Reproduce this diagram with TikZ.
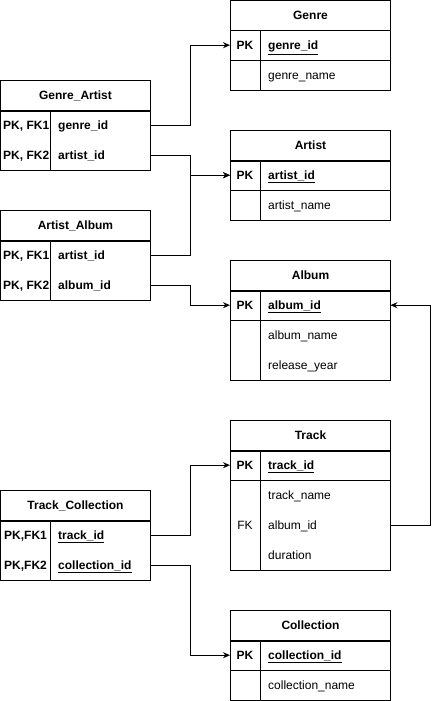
\documentclass[tikz,border=0pt]{standalone}
\usepackage{fontspec}
\setmainfont{Liberation Sans}
\usetikzlibrary{positioning}
\usetikzlibrary{arrows.meta}
\tikzset{hdr/.style={draw,line width=1pt,anchor=north west,minimum width=#1,minimum height=30pt,inner sep=0pt,font=\bfseries}}
\tikzset{rowbox/.style={anchor=north west,minimum width=#1,minimum height=30pt,inner sep=0pt}}
\tikzset{frame/.style={line width=1pt}}
\tikzset{keytxt/.style={inner sep=0pt,text height=9.6pt,text depth=0pt,font=\bfseries}}
\tikzset{fktxt/.style={inner sep=0pt,text height=9.6pt,text depth=0pt}}
\tikzset{fldtxt/.style={anchor=west,inner sep=0pt,text height=9.6pt,text depth=0pt}}
\tikzset{pktxt/.style={fldtxt,font=\bfseries}}
\tikzset{link/.style={line width=1pt,-{Stealth[length=7pt,width=6pt]}}}
\begin{document}
\fontsize{12}{14}\selectfont
\begin{tikzpicture}[x=1pt,y=-1pt]
  \useasboundingbox (0,0) rectangle (439,701);

  % Genre
  \node[hdr=160] (genre) at (230,0) {Genre};
  \node[rowbox=160] (genre-pk) at (230,30) {};
  \node[rowbox=160] (genre-r1) at (230,60) {};
  \draw[frame] (genre.south west) rectangle (390,90);
  \draw[frame] (genre-pk.south west) -- (genre-pk.south east);
  \draw[frame] (260,30) -- (260,90);
  \node[keytxt] (genre-k1) at (245,45) {PK};
  \node[pktxt] (genre-f1) at (268,45) {\underline{genre\_id}};
  \node[fldtxt] (genre-f2) at (268,75) {genre\_name};

  % Artist
  \node[hdr=160] (artist) at (230,130) {Artist};
  \node[rowbox=160] (artist-pk) at (230,160) {};
  \node[rowbox=160] (artist-r1) at (230,190) {};
  \draw[frame] (artist.south west) rectangle (390,220);
  \draw[frame] (artist-pk.south west) -- (artist-pk.south east);
  \draw[frame] (260,160) -- (260,220);
  \node[keytxt] (artist-k1) at (245,175) {PK};
  \node[pktxt] (artist-f1) at (268,175) {\underline{artist\_id}};
  \node[fldtxt] (artist-f2) at (268,205) {artist\_name};

  % Album
  \node[hdr=160] (album) at (230,260) {Album};
  \node[rowbox=160] (album-pk) at (230,290) {};
  \node[rowbox=160] (album-r1) at (230,320) {};
  \node[rowbox=160] (album-r2) at (230,350) {};
  \draw[frame] (album.south west) rectangle (390,380);
  \draw[frame] (album-pk.south west) -- (album-pk.south east);
  \draw[frame] (260,290) -- (260,380);
  \node[keytxt] (album-k1) at (245,305) {PK};
  \node[pktxt] (album-f1) at (268,305) {\underline{album\_id}};
  \node[fldtxt] (album-f2) at (268,335) {album\_name};
  \node[fldtxt] (album-f3) at (268,365) {release\_year};

  % Track
  \node[hdr=160] (track) at (230,420) {Track};
  \node[rowbox=160] (track-pk) at (230,450) {};
  \node[rowbox=160] (track-r1) at (230,480) {};
  \node[rowbox=160] (track-r2) at (230,510) {};
  \node[rowbox=160] (track-r3) at (230,540) {};
  \draw[frame] (track.south west) rectangle (390,570);
  \draw[frame] (track-pk.south west) -- (track-pk.south east);
  \draw[frame] (260,450) -- (260,570);
  \node[keytxt] (track-k1) at (245,465) {PK};
  \node[fktxt] (track-k2) at (245,525) {FK};
  \node[pktxt] (track-f1) at (268,465) {\underline{track\_id}};
  \node[fldtxt] (track-f2) at (268,495) {track\_name};
  \node[fldtxt] (track-f3) at (268,525) {album\_id};
  \node[fldtxt] (track-f4) at (268,555) {duration};

  % Collection
  \node[hdr=160] (coll) at (230,610) {Collection};
  \node[rowbox=160] (coll-pk) at (230,640) {};
  \node[rowbox=160] (coll-r1) at (230,670) {};
  \draw[frame] (coll.south west) rectangle (390,700);
  \draw[frame] (coll-pk.south west) -- (coll-pk.south east);
  \draw[frame] (260,640) -- (260,700);
  \node[keytxt] (coll-k1) at (245,655) {PK};
  \node[pktxt] (coll-f1) at (268,655) {\underline{collection\_id}};
  \node[fldtxt] (coll-f2) at (268,685) {collection\_name};

  % Genre_Artist
  \node[hdr=150] (ga) at (0,80) {Genre\_Artist};
  \node[rowbox=150] (ga-r1) at (0,110) {};
  \node[rowbox=150] (ga-r2) at (0,140) {};
  \draw[frame] (ga.south west) rectangle (150,170);
  \draw[frame] (50,110) -- (50,170);
  \node[keytxt,anchor=west] (ga-k1) at (3,125) {PK, FK1};
  \node[keytxt,anchor=west] (ga-k2) at (3,155) {PK, FK2};
  \node[pktxt] (ga-f1) at (58,125) {genre\_id};
  \node[pktxt] (ga-f2) at (58,155) {artist\_id};

  % Artist_Album
  \node[hdr=150] (aa) at (0,210) {Artist\_Album};
  \node[rowbox=150] (aa-r1) at (0,240) {};
  \node[rowbox=150] (aa-r2) at (0,270) {};
  \draw[frame] (aa.south west) rectangle (150,300);
  \draw[frame] (50,240) -- (50,300);
  \node[keytxt,anchor=west] (aa-k1) at (3,255) {PK, FK1};
  \node[keytxt,anchor=west] (aa-k2) at (3,285) {PK, FK2};
  \node[pktxt] (aa-f1) at (58,255) {artist\_id};
  \node[pktxt] (aa-f2) at (58,285) {album\_id};

  % Track_Collection
  \node[hdr=150] (tc) at (0,490) {Track\_Collection};
  \node[rowbox=150] (tc-r1) at (0,520) {};
  \node[rowbox=150] (tc-r2) at (0,550) {};
  \draw[frame] (tc.south west) rectangle (150,580);
  \draw[frame] (50,520) -- (50,580);
  \node[keytxt,anchor=west] (tc-k1) at (4,535) {PK,FK1};
  \node[keytxt,anchor=west] (tc-k2) at (4,565) {PK,FK2};
  \node[pktxt] (tc-f1) at (58,535) {\underline{track\_id}};
  \node[pktxt] (tc-f2) at (58,565) {\underline{collection\_id}};

  % Links
  \draw[link] (ga-r1.east) -- ++(40,0) |- (genre-pk.west);
  \draw[link] (ga-r2.east) -- ++(40,0) |- (artist-pk.west);
  \draw[link] (aa-r1.east) -- ++(40,0) |- (artist-pk.west);
  \draw[link] (aa-r2.east) -- ++(40,0) |- (album-pk.west);
  \draw[link] (tc-r1.east) -- ++(40,0) |- (track-pk.west);
  \draw[link] (tc-r2.east) -- ++(40,0) |- (coll-pk.west);
  \draw[link] (track-r2.east) -- ++(40,0) |- (album-pk.east);
\end{tikzpicture}
\end{document}
